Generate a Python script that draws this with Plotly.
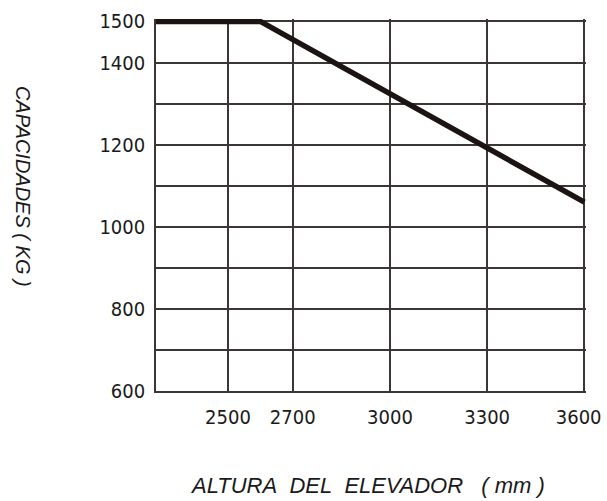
import plotly.graph_objects as go

# Data
altura_mm = [2278, 2600, 3600]          # lift height (mm)
capacidad_kg = [1500, 1500, 1060]       # capacity (kg)

x_tick_vals = [2500, 2700, 3000, 3300, 3600]
x_tick_text = ["2500", "2700", "3000", "3300", "3600\u00a0\u00a0"]
y_tick_vals = [600, 700, 800, 900, 1000, 1100, 1200, 1300, 1400, 1500]
y_tick_text = ["600", "", "800", "", "1000", "", "1200", "", "1400", "1500"]

GRID = "#3b3636"
LINE = "#1c1313"
TICKFONT = dict(family="Liberation Sans Narrow, Arial Narrow, DejaVu Sans Condensed, sans-serif",
                size=20, color="#1a1a1a")
TITLEFONT = dict(family="Liberation Sans, Arial, sans-serif", size=22, color="#1a1a1a")

fig = go.Figure()
fig.add_trace(go.Scatter(
    x=altura_mm, y=capacidad_kg, mode="lines",
    line=dict(color=LINE, width=5.5),
    hoverinfo="skip", showlegend=False,
))

# hide grid stubs above the top border (1500) in the small headroom
fig.add_shape(type="rect", xref="paper", yref="y", x0=-0.01, x1=1.01, y0=1500.8, y1=1510,
              fillcolor="white", line=dict(width=0), layer="between")

fig.update_xaxes(
    range=[altura_mm[0], 3605],
    tickmode="array", tickvals=x_tick_vals, ticktext=x_tick_text,
    showgrid=True, gridcolor=GRID, gridwidth=1.6,
    showline=True, linecolor=GRID, linewidth=1.6,
    zeroline=False, ticks="", tickfont=TICKFONT, ticklabelstandoff=7,
    ticklabeloverflow="allow", automargin=False,
)
fig.update_yaxes(
    range=[600, 1506],
    tickmode="array", tickvals=y_tick_vals, ticktext=y_tick_text,
    showgrid=True, gridcolor=GRID, gridwidth=1.6,
    showline=True, linecolor=GRID, linewidth=1.6,
    zeroline=False, ticks="", tickfont=TICKFONT, ticklabelstandoff=5,
    automargin=False,
)

fig.add_annotation(
    text="<i>ALTURA\u00a0\u00a0DEL\u00a0\u00a0ELEVADOR\u00a0\u00a0\u00a0(\u00a0mm\u00a0)</i>",
    xref="paper", yref="paper", x=0.4907, y=-0.255,
    showarrow=False, font=TITLEFONT, xanchor="center", yanchor="middle",
)
fig.add_annotation(
    text="<i>CAPACIDADES\u00a0(\u00a0KG\u00a0)</i>",
    xref="paper", yref="paper", x=-0.309, y=0.551, textangle=90,
    showarrow=False, font=dict(TITLEFONT, size=20), xanchor="center", yanchor="middle",
)

fig.update_layout(
    width=607, height=501,
    margin=dict(l=156, r=21, t=19, b=110),
    plot_bgcolor="white", paper_bgcolor="white",
)

# remove the default 8px page margin so the figure fills the 607x501 window exactly
fig.write_html("out.html", config={"displayModeBar": False},
               post_script="document.body.style.margin='0';")
